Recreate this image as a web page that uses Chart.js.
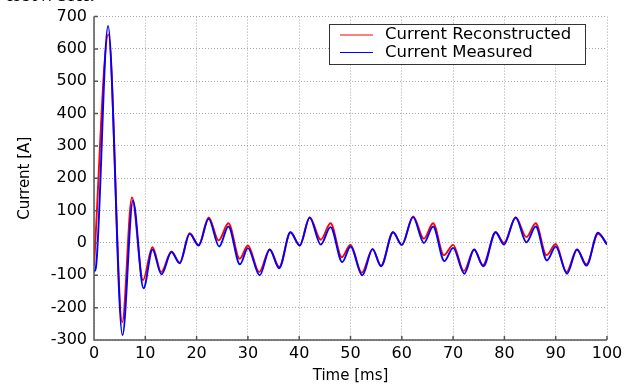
<!DOCTYPE html>
<html>
<head>
<meta charset="utf-8">
<script src="https://cdn.jsdelivr.net/npm/chart.js@4.4.1/dist/chart.umd.min.js"></script>
<style>
    html, body { margin: 0; padding: 0; background: #fff; }
    #wrap { position: relative; width: 635px; height: 387px; overflow: hidden; }
    #note { position: absolute; left: 7px; top: -20px; font: 25px "Liberation Serif"; line-height: 25px; color: #000; }
    canvas { display: block; }
</style>
</head>
<body>
<div id="wrap">
    <canvas id="chart" width="635" height="387"></canvas>
    <div id="note">network.</div>
</div>
<script>
// values (turning points of each trace)
var timeRec = [0, 2.8, 5.5, 7.4, 9.55, 11.4, 13.1, 15.1, 16.7, 18.65, 20.4, 22.35, 24.3, 26.2, 28.4, 30.0, 32.2, 34.25, 36.1, 38.3,
    40.1, 42.05, 44.2, 46.1, 48.3, 50.0, 52.2, 54.3, 55.95, 58.3, 60.0, 62.2, 64.3, 66.1, 68.2, 70.0, 72.1, 74.1, 75.8, 78.3,
    79.9, 82.2, 84.3, 86.1, 88.2, 90.0, 92.1, 94.15, 96.0, 98.25, 100];
var currentRec = [-70, 645, -245, 141, -115, -13, -90, -26, -61, 30, -6, 79, 8, 61, -49, -8, -90, -20, -74, 33,
    -8, 79, 10, 61, -44, -5, -92, -19, -70, 33, -6, 82, 13, 61, -38, -6, -87, -20, -69, 33,
    0, 79, 18, 61, -38, -3, -90, -20, -66, 28, -3];

var timeMeas = [0, 0.35, 2.74, 5.55, 7.6, 9.65, 11.4, 13.15, 15.1, 16.7, 18.65, 20.4, 22.35, 24.4, 26.2, 28.45, 30.0, 32.3, 34.25, 36.1,
    38.3, 40.1, 42.05, 44.2, 46.1, 48.4, 50.0, 52.3, 54.3, 55.95, 58.3, 60.0, 62.2, 64.3, 66.1, 68.3, 70.0, 72.2, 74.1, 75.9,
    78.3, 79.9, 82.2, 84.3, 86.1, 88.3, 90.0, 92.2, 94.15, 96.0, 98.25, 100];
var currentMeas = [-88, -78, 671, -285, 131, -140, -20, -97, -28, -63, 28, -8, 75, -11, 51, -66, -16, -100, -20, -78,
    33, -8, 79, -5, 49, -59, -11, -100, -19, -72, 33, -6, 80, 0, 51, -56, -15, -95, -20, -72,
    33, -5, 79, 2, 51, -54, -11, -95, -20, -70, 32, -5];

var xTicks = [0, 10, 20, 30, 40, 50, 60, 70, 80, 90, 100];
var yTicks = [-300, -200, -100, 0, 100, 200, 300, 400, 500, 600, 700];

function toPoints(xs, ys) {
    return xs.map(function (x, i) { return {x: x, y: ys[i]}; });
}

// axis lines with the small inward tick marks
var frame = {
    id: 'frame',
    afterDatasetsDraw: function (chart) {
        var ctx = chart.ctx, a = chart.chartArea,
            xs = chart.scales.x, ys = chart.scales.y;
        ctx.save();
        ctx.strokeStyle = '#555';
        ctx.lineWidth = 1.5;
        ctx.beginPath();
        ctx.moveTo(a.left, a.top);
        ctx.lineTo(a.left, a.bottom);
        ctx.lineTo(a.right, a.bottom);
        xTicks.forEach(function (v) {
            var px = xs.getPixelForValue(v);
            ctx.moveTo(px, a.bottom);
            ctx.lineTo(px, a.bottom - 4);
        });
        yTicks.forEach(function (v) {
            var py = ys.getPixelForValue(v);
            ctx.moveTo(a.left, py);
            ctx.lineTo(a.left + 4, py);
        });
        ctx.stroke();
        ctx.restore();
    }
};

// boxed legend in the upper right
var boxLegend = {
    id: 'boxLegend',
    afterDraw: function (chart) {
        var ctx = chart.ctx, sets = chart.data.datasets,
            left = 329.5, top = 24.5, w = 256, h = 40;
        ctx.save();
        ctx.fillStyle = '#fff';
        ctx.fillRect(left, top, w, h);
        ctx.strokeStyle = '#333';
        ctx.lineWidth = 1;
        ctx.strokeRect(left, top, w, h);
        ctx.font = '16.5px "DejaVu Sans"';
        ctx.textBaseline = 'middle';
        ctx.fillStyle = '#000';
        sets.forEach(function (ds, i) {
            var y = 35 + i * 17.5;
            ctx.strokeStyle = ds.borderColor;
            ctx.lineWidth = 1;
            ctx.beginPath();
            ctx.moveTo(340, y);
            ctx.lineTo(373, y);
            ctx.stroke();
            ctx.fillText(ds.label, 385, y);
        });
        ctx.restore();
    }
};

var gridOpts = {color: '#a8a8a8', lineWidth: 1, drawTicks: false};

new Chart(document.getElementById('chart'), {
    type: 'line',
    data: {
        datasets: [
            {
                label: 'Current Reconstructed',
                data: toPoints(timeRec, currentRec),
                borderColor: '#ff0000',
                borderWidth: 1.9,
                pointRadius: 0,
                cubicInterpolationMode: 'monotone',
                order: 1
            },
            {
                label: 'Current Measured',
                data: toPoints(timeMeas, currentMeas),
                borderColor: '#0000ff',
                borderWidth: 1.9,
                pointRadius: 0,
                cubicInterpolationMode: 'monotone',
                order: 0
            }
        ]
    },
    options: {
        responsive: false,
        animation: false,
        devicePixelRatio: 1,
        layout: {padding: {top: 15, right: 28, left: 0, bottom: 0}},
        plugins: {legend: {display: false}, tooltip: {enabled: false}},
        scales: {
            x: {
                type: 'linear',
                min: 0,
                max: 100,
                afterBuildTicks: function (s) { s.ticks = xTicks.map(function (v) { return {value: v}; }); },
                afterFit: function (s) { s.height = 47; },
                grid: gridOpts,
                border: {display: false, dash: [1, 2]},
                ticks: {color: '#000', font: {family: 'DejaVu Sans', size: 16}, padding: 4, maxRotation: 0},
                title: {display: true, text: 'Time [ms]', color: '#000', font: {family: 'DejaVu Sans', size: 15}, padding: {top: 0, bottom: 2}}
            },
            y: {
                min: -300,
                max: 700,
                afterBuildTicks: function (s) { s.ticks = yTicks.map(function (v) { return {value: v}; }); },
                afterFit: function (s) { s.width = 94; },
                grid: gridOpts,
                border: {display: false, dash: [1, 2]},
                ticks: {color: '#000', font: {family: 'DejaVu Sans', size: 16}, padding: 7},
                title: {display: true, text: 'Current [A]', color: '#000', font: {family: 'DejaVu Sans', size: 15}, padding: {top: 16, bottom: 0}}
            }
        }
    },
    plugins: [frame, boxLegend]
});
</script>
</body>
</html>
